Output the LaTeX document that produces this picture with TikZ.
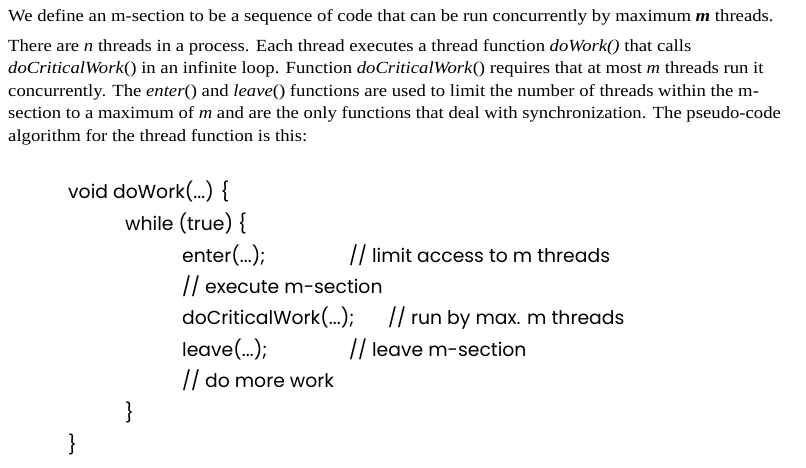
\documentclass[tikz,border=0pt]{standalone}
\usepackage{fontspec}
\setmainfont{Liberation Serif}[FakeStretch=1.10]
\newfontfamily\codefont{Poppins}
\usetikzlibrary{positioning}

\tikzset{
  para/.style={anchor=base west, inner sep=0pt, font=\fontsize{17}{22}\selectfont},
  code/.style={anchor=base west, inner sep=0pt, font=\codefont\fontsize{18.8}{22}\selectfont}
}

\begin{document}
\begin{tikzpicture}[x=1pt,y=-1pt]
  \useasboundingbox (0,0) rectangle (806,467);

  % the problem statement
  \node[para] (intro) at (8,21) {We define an m-section to be a sequence of code that can be run concurrently by maximum \textbf{\textit{m}} threads.};
  \node[para] (p1) at (8,51) {There are \textit{n} threads in a process. Each thread executes a thread function \textit{doWork()} that calls};
  \node[para] (p2) at (8,73.5) {\textit{doCriticalWork}() in an infinite loop. Function \textit{doCriticalWork}() requires that at most \textit{m} threads run it};
  \node[para] (p3) at (8,96) {concurrently. The \textit{enter}() and \textit{leave}() functions are used to limit the number of threads within the m-};
  \node[para] (p4) at (8,118.5) {section to a maximum of \textit{m} and are the only functions that deal with synchronization. The pseudo-code};
  \node[para] (p5) at (8,141) {algorithm for the thread function is this:};

  % the pseudo-code
  \node[code] (dowork) at (68,198) {void doWork(...) \{};
  \node[code] (while) at (125,230) {while (true) \{};
  \node[code] (enter) at (182,262) {enter(...);};
  \node[code] (center) at (349,262) {// limit access to m threads};
  \node[code] (exec) at (182,293) {// execute m-section};
  \node[code] (crit) at (182,324) {doCriticalWork(...);};
  \node[code] (ccrit) at (388,324) {// run by max. m threads};
  \node[code] (leave) at (182,356) {leave(...);};
  \node[code] (cleave) at (349,356) {// leave m-section};
  \node[code] (more) at (182,387) {// do more work};
  \node[code] (endwhile) at (125,419) {\}};
  \node[code] (enddowork) at (68,451) {\}};
\end{tikzpicture}
\end{document}
